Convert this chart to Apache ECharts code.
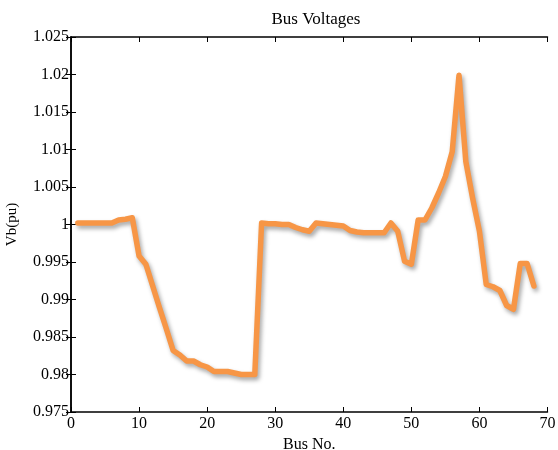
<!DOCTYPE html>
<html>
<head>
<meta charset="utf-8">
<script src="https://cdn.jsdelivr.net/npm/echarts@6/dist/echarts.min.js"></script>
<style>
html,body{margin:0;padding:0;background:#fff;}
#chart{width:558px;height:450px;}
</style>
</head>
<body>
<div id="chart"></div>
<script>
const titleText = 'Bus Voltages';
const xAxisName = 'Bus No.';
const yAxisName = 'Vb(pu)';
const busNumbers = [1,2,3,4,5,6,7,8,9,10,11,12,13,14,15,16,17,18,19,20,21,22,23,24,25,26,27,28,29,30,31,32,33,34,35,36,37,38,39,40,41,42,43,44,45,46,47,48,49,50,51,52,53,54,55,56,57,58,59,60,61,62,63,64,65,66,67,68];
const voltages = [
  1.0002,1.0002,1.0002,1.0002,1.0002,1.0002,1.0006,1.0007,1.0009,0.9958,
  0.9947,0.9918,0.9889,0.9861,0.9832,0.9826,0.9818,0.9818,0.9813,0.9810,
  0.9804,0.9804,0.9804,0.9802,0.9800,0.9800,0.9800,1.0002,1.0001,1.0001,
  1.0000,1.0000,0.9996,0.9993,0.9991,1.0002,1.0001,1.0000,0.9999,0.9998,
  0.9992,0.9990,0.9989,0.9989,0.9989,0.9989,1.0002,0.9991,0.9951,0.9947,
  1.0006,1.0006,1.0022,1.0042,1.0064,1.0097,1.0199,1.0084,1.0035,0.9991,
  0.9920,0.9917,0.9912,0.9892,0.9887,0.9948,0.9948,0.9918
];
const xMin = 0, xMax = 70, xStep = 10;
const yMin = 0.975, yMax = 1.025, yStep = 0.005;

const chart = echarts.init(document.getElementById('chart'));
const fontFamily = '"Liberation Serif", "DejaVu Serif", serif';
const axisLine = {show: true, lineStyle: {color: '#000', width: 1.5}};
const tick = {show: true, inside: true, length: 5, lineStyle: {color: '#000', width: 1}};
chart.setOption({
  animation: false,
  backgroundColor: '#fff',
  title: {
    text: titleText,
    left: 311, top: 6, textAlign: 'center',
    textStyle: {fontFamily: fontFamily, fontSize: 17, fontWeight: 'normal', color: '#000'}
  },
  grid: {left: 71, right: 10.5, top: 37, bottom: 38, containLabel: false, outerBoundsMode: 'none'},
  xAxis: [{
    type: 'value', min: xMin, max: xMax, interval: xStep,
    name: xAxisName, nameLocation: 'middle', nameGap: 21,
    nameTextStyle: {fontFamily: fontFamily, fontSize: 16, color: '#000'},
    axisLine: axisLine, axisTick: tick, splitLine: {show: false},
    axisLabel: {fontFamily: fontFamily, fontSize: 16, color: '#000', margin: 4}
  }, {
    type: 'value', position: 'top', min: xMin, max: xMax, interval: xStep,
    axisLine: axisLine, axisTick: tick, splitLine: {show: false},
    axisLabel: {show: false}
  }],
  yAxis: [{
    type: 'value', min: yMin, max: yMax, interval: yStep,
    name: yAxisName, nameLocation: 'middle', nameGap: 51,
    nameTextStyle: {fontFamily: fontFamily, fontSize: 15, color: '#000'},
    axisLine: axisLine, axisTick: tick, splitLine: {show: false},
    axisLabel: {fontFamily: fontFamily, fontSize: 16, color: '#000', margin: 2}
  }, {
    type: 'value', position: 'right', min: yMin, max: yMax, interval: yStep,
    axisLine: axisLine, axisTick: tick, splitLine: {show: false},
    axisLabel: {show: false}
  }],
  series: [{
    type: 'line',
    data: busNumbers.map((b, i) => [b, voltages[i]]),
    showSymbol: false,
    lineStyle: {
      color: '#F79646', width: 5.5, join: 'round', cap: 'round',
      shadowColor: 'rgba(0,0,0,0.35)', shadowBlur: 4, shadowOffsetX: 2, shadowOffsetY: 3
    },
    itemStyle: {color: '#F79646'}
  }]
});
</script>
</body>
</html>
